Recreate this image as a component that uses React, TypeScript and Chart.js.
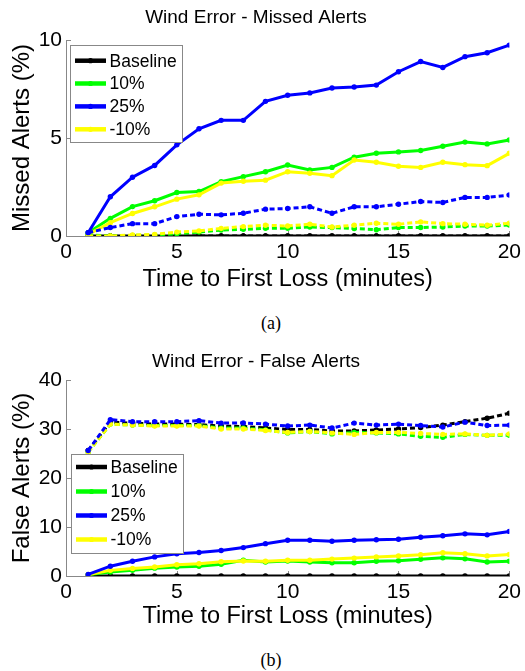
import React, { useEffect, useRef } from "react";
import { Chart, registerables } from "chart.js";

Chart.register(...registerables);

const FONT = "'Liberation Sans', Arial, Helvetica, sans-serif";

// x values (minutes)
const minutes = [1, 2, 3, 4, 5, 6, 7, 8, 9, 10, 11, 12, 13, 14, 15, 16, 17, 18, 19, 20];
const xTicks = [0, 5, 10, 15, 20];

const legendLabels = ["Baseline", "10%", "25%", "-10%"];
const legendColors = ["#000000", "#00ff00", "#0000ff", "#ffff00"];

// ---- (a) Missed Alerts (%) ----
const missedBaselineSolid = [0, 0, 0, 0, 0, 0, 0, 0, 0, 0, 0, 0, 0, 0, 0, 0, 0, 0, 0, 0];
const missedBaselineDashed = [0, 0, 0, 0, 0, 0, 0, 0, 0, 0, 0, 0, 0, 0, 0, 0, 0, 0, 0, 0];
const missed10Solid = [0.17, 0.9, 1.5, 1.8, 2.22, 2.27, 2.77, 3.03, 3.28, 3.62, 3.37, 3.5, 4.02, 4.22, 4.29, 4.36, 4.58, 4.79, 4.7, 4.9];
const missed25Solid = [0.17, 2.0, 3.0, 3.6, 4.65, 5.47, 5.9, 5.9, 6.87, 7.18, 7.3, 7.55, 7.6, 7.7, 8.38, 8.9, 8.6, 9.15, 9.35, 9.74];
const missedNeg10Solid = [0.08, 0.68, 1.15, 1.49, 1.88, 2.1, 2.7, 2.79, 2.85, 3.28, 3.2, 3.08, 3.88, 3.76, 3.56, 3.5, 3.76, 3.64, 3.59, 4.22];
const missed10Dashed = [0.05, 0.0, 0.03, 0.05, 0.12, 0.2, 0.3, 0.34, 0.39, 0.39, 0.46, 0.43, 0.38, 0.32, 0.43, 0.43, 0.46, 0.51, 0.51, 0.56];
const missed25Dashed = [0.17, 0.43, 0.63, 0.63, 0.99, 1.11, 1.08, 1.16, 1.37, 1.4, 1.49, 1.16, 1.49, 1.49, 1.62, 1.76, 1.71, 1.97, 1.97, 2.09];
const missedNeg10Dashed = [0.0, 0.0, 0.05, 0.08, 0.2, 0.26, 0.39, 0.48, 0.55, 0.51, 0.6, 0.46, 0.55, 0.65, 0.6, 0.72, 0.63, 0.6, 0.55, 0.65];

// ---- (b) False Alerts (%) ----
const falseBaselineSolid = [0, 0, 0, 0, 0, 0, 0, 0, 0, 0, 0, 0, 0, 0, 0, 0, 0, 0, 0, 0];
const falseBaselineDashed = [25.6, 31.4, 31.2, 31.0, 31.0, 30.9, 30.6, 30.5, 30.2, 29.9, 29.9, 29.6, 29.6, 29.8, 30.0, 30.3, 30.8, 31.5, 32.2, 33.2];
const false10Solid = [0.27, 0.8, 1.15, 1.6, 1.83, 2.0, 2.4, 3.2, 2.85, 3.05, 2.85, 2.7, 2.7, 3.0, 3.1, 3.4, 3.7, 3.5, 2.85, 3.0];
const false25Solid = [0.34, 2.0, 3.0, 3.9, 4.55, 4.8, 5.2, 5.8, 6.6, 7.3, 7.3, 7.1, 7.3, 7.4, 7.5, 7.9, 8.2, 8.6, 8.4, 9.1];
const falseNeg10Solid = [0.27, 1.15, 1.55, 1.83, 2.3, 2.5, 2.9, 3.05, 3.0, 3.2, 3.2, 3.45, 3.65, 3.9, 4.1, 4.35, 4.75, 4.55, 4.1, 4.4];
const false10Dashed = [25.3, 31.0, 30.8, 30.7, 30.7, 30.7, 30.2, 30.2, 29.8, 29.2, 29.5, 29.0, 29.3, 29.2, 29.0, 28.5, 28.3, 28.9, 28.7, 28.7];
const false25Dashed = [25.6, 31.9, 31.5, 31.5, 31.5, 31.7, 31.2, 31.25, 31.0, 30.6, 30.8, 30.2, 31.2, 30.8, 31.0, 30.7, 30.4, 31.4, 30.7, 30.8];
const falseNeg10Dashed = [25.3, 31.0, 30.8, 30.6, 30.6, 30.6, 30.0, 30.0, 29.7, 29.3, 29.5, 29.2, 28.9, 29.3, 29.3, 29.1, 28.9, 29.0, 28.7, 29.0];

type Series = { label: string; color: string; dashed: boolean; values: number[] };

// listed bottom -> top in drawing order
const missedSeries: Series[] = [
  { label: "Baseline", color: "#000000", dashed: false, values: missedBaselineSolid },
  { label: "Baseline dashed", color: "#000000", dashed: true, values: missedBaselineDashed },
  { label: "10%", color: "#00ff00", dashed: false, values: missed10Solid },
  { label: "-10%", color: "#ffff00", dashed: false, values: missedNeg10Solid },
  { label: "25%", color: "#0000ff", dashed: false, values: missed25Solid },
  { label: "10% dashed", color: "#00ff00", dashed: true, values: missed10Dashed },
  { label: "-10% dashed", color: "#ffff00", dashed: true, values: missedNeg10Dashed },
  { label: "25% dashed", color: "#0000ff", dashed: true, values: missed25Dashed },
];

const falseSeries: Series[] = [
  { label: "Baseline", color: "#000000", dashed: false, values: falseBaselineSolid },
  { label: "10%", color: "#00ff00", dashed: false, values: false10Solid },
  { label: "-10%", color: "#ffff00", dashed: false, values: falseNeg10Solid },
  { label: "25%", color: "#0000ff", dashed: false, values: false25Solid },
  { label: "Baseline dashed", color: "#000000", dashed: true, values: falseBaselineDashed },
  { label: "10% dashed", color: "#00ff00", dashed: true, values: false10Dashed },
  { label: "-10% dashed", color: "#ffff00", dashed: true, values: falseNeg10Dashed },
  { label: "25% dashed", color: "#0000ff", dashed: true, values: false25Dashed },
];

type LegendBox = { x: number; y: number; w: number; h: number; rows: number[]; lineX0: number; lineX1: number; textX: number };

type PanelProps = {
  top: number;
  height: number;
  title: string;
  yTitle: string;
  yMax: number;
  yStep: number;
  series: Series[];
  titlePad: { top: number; bottom: number };
  xTitlePadBottom: number;
  legend: LegendBox;
};

function Panel(props: PanelProps) {
  const ref = useRef<HTMLCanvasElement | null>(null);
  useEffect(() => {
    const canvas = ref.current!;
    const n = props.series.length;
    const datasets = props.series.map((s, i) => ({
      label: s.label,
      data: s.values.map((v, j) => ({ x: minutes[j], y: v })),
      borderColor: s.color,
      backgroundColor: s.color,
      borderWidth: 3,
      borderDash: s.dashed ? [5, 3] : [],
      pointRadius: 2.7,
      pointBackgroundColor: s.color,
      pointBorderWidth: 0,
      pointHoverRadius: 0,
      tension: 0,
      fill: false,
      order: n - i,
    }));

    const inwardTicks = {
      id: "inwardTicks",
      beforeDatasetsDraw(chart: any) {
        const { ctx, scales } = chart;
        const xs = scales.x;
        const ys = scales.y;
        ctx.save();
        ctx.strokeStyle = "#888888";
        ctx.lineWidth = 1;
        ys.ticks.forEach((t: any) => {
          const py = Math.round(ys.getPixelForValue(t.value)) + 0.5;
          ctx.beginPath();
          ctx.moveTo(xs.left, py);
          ctx.lineTo(xs.left + 5, py);
          ctx.stroke();
        });
        xs.ticks.forEach((t: any) => {
          const px = Math.round(xs.getPixelForValue(t.value)) + 0.5;
          ctx.beginPath();
          ctx.moveTo(px, ys.bottom);
          ctx.lineTo(px, ys.bottom - 5);
          ctx.stroke();
        });
        ctx.restore();
      },
    };

    const boxLegend = {
      id: "boxLegend",
      afterDatasetsDraw(chart: any) {
        const ctx = chart.ctx;
        const L = props.legend;
        ctx.save();
        ctx.fillStyle = "#ffffff";
        ctx.fillRect(L.x, L.y, L.w, L.h);
        ctx.strokeStyle = "#888888";
        ctx.lineWidth = 1;
        ctx.strokeRect(L.x + 0.5, L.y + 0.5, L.w, L.h);
        legendLabels.forEach((lab, i) => {
          const cy = L.rows[i];
          ctx.strokeStyle = legendColors[i];
          ctx.lineWidth = 4.5;
          ctx.setLineDash([]);
          ctx.beginPath();
          ctx.moveTo(L.lineX0, cy);
          ctx.lineTo(L.lineX1, cy);
          ctx.stroke();
          ctx.fillStyle = legendColors[i];
          ctx.beginPath();
          ctx.arc((L.lineX0 + L.lineX1) / 2, cy, 2.6, 0, Math.PI * 2);
          ctx.fill();
          ctx.fillStyle = "#000000";
          ctx.font = `17.5px ${FONT}`;
          ctx.textBaseline = "middle";
          ctx.textAlign = "left";
          ctx.fillText(lab, L.textX, cy + 1);
        });
        ctx.restore();
      },
    };

    const chart = new Chart(canvas, {
      type: "line",
      data: { datasets: datasets as any },
      options: {
        responsive: false,
        animation: false,
        devicePixelRatio: 1,
        events: [],
        layout: { padding: { left: 0, right: 13, top: 0, bottom: 0 } },
        plugins: {
          legend: { display: false },
          tooltip: { enabled: false },
          title: {
            display: true,
            text: props.title,
            color: "#000000",
            font: { family: FONT, size: 19, weight: "normal" as any },
            padding: props.titlePad,
          },
        },
        scales: {
          x: {
            type: "linear",
            min: 0,
            max: 20,
            grid: { display: false, drawTicks: false },
            border: { display: true, color: "#888888", width: 1 },
            afterBuildTicks: (s: any) => {
              s.ticks = xTicks.map((v) => ({ value: v }));
            },
            ticks: {
              color: "#000000",
              font: { family: FONT, size: 21 },
              padding: 4,
              maxRotation: 0,
              autoSkip: false,
            },
            title: {
              display: true,
              text: "Time to First Loss (minutes)",
              color: "#000000",
              font: { family: FONT, size: 23.5 },
              padding: { top: 1, bottom: props.xTitlePadBottom },
            },
            afterFit: (s: any) => {
              s.height = 64;
            },
          },
          y: {
            type: "linear",
            min: 0,
            max: props.yMax,
            grid: { display: false, drawTicks: false },
            border: { display: true, color: "#888888", width: 1 },
            ticks: {
              stepSize: props.yStep,
              color: "#000000",
              font: { family: FONT, size: 21 },
              padding: 4,
            },
            title: {
              display: true,
              text: props.yTitle,
              color: "#000000",
              font: { family: FONT, size: 24 },
              padding: { top: 7.6, bottom: 0 },
            },
            afterFit: (s: any) => {
              s.width = 66;
            },
          },
        },
      },
      plugins: [inwardTicks, boxLegend],
    });
    return () => chart.destroy();
  }, []);

  return (
    <canvas
      ref={ref}
      width={525}
      height={props.height}
      style={{ position: "absolute", left: 0, top: props.top, width: 525, height: props.height, display: "block" }}
    />
  );
}

const captionStyle = (top: number): React.CSSProperties => ({
  position: "absolute",
  left: 0,
  width: 542,
  top,
  textAlign: "center",
  fontFamily: "'Liberation Serif', 'Times New Roman', serif",
  fontSize: 18,
  lineHeight: "20px",
  color: "#000",
});

export default function App() {
  return (
    <div style={{ position: "absolute", left: 0, top: 0, width: 525, height: 671, background: "#fff", overflow: "hidden" }}>
      <Panel
        top={0}
        height={300}
        title="Wind Error - Missed Alerts"
        yTitle="Missed Alerts (%)"
        yMax={10}
        yStep={5}
        series={missedSeries}
        titlePad={{ top: 6, bottom: 11.2 }}
        xTitlePadBottom={6}
        legend={{ x: 70, y: 45, w: 112, h: 97, rows: [60.7, 83.5, 106.4, 129.3], lineX0: 75, lineX1: 106, textX: 109.5 }}
      />
      <div style={captionStyle(313)}>(a)</div>
      <Panel
        top={340}
        height={300}
        title="Wind Error - False Alerts"
        yTitle="False Alerts (%)"
        yMax={40}
        yStep={10}
        series={falseSeries}
        titlePad={{ top: 10.6, bottom: 6.6 }}
        xTitlePadBottom={9}
        legend={{ x: 71, y: 114, w: 112, h: 99, rows: [127, 151.5, 175.5, 199.5], lineX0: 76, lineX1: 107, textX: 110.5 }}
      />
      <div style={captionStyle(650)}>(b)</div>
    </div>
  );
}
